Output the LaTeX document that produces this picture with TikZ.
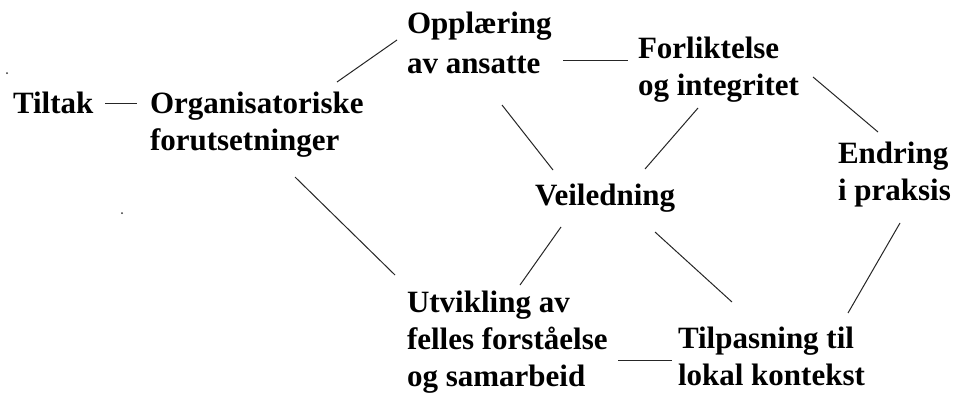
\documentclass[tikz,border=0pt]{standalone}
\usepackage{fontspec}
\setmainfont{Liberation Serif}
\newcommand\mylines[1]{\begin{tabular}[t]{@{}l@{}}#1\end{tabular}}
\begin{document}
\begin{tikzpicture}[x=1pt,y=-1pt,
  lbl/.style={anchor=base west,inner sep=0pt,outer sep=0pt,
    font=\fontsize{31}{37}\selectfont\bfseries},
  conn/.style={draw=black!85,line width=1pt}]
\useasboundingbox[fill=white] (0,0) rectangle (953,394);
\node[lbl] (tiltak) at (13,113) {Tiltak};
\node[lbl] (org) at (150,113) {\mylines{Organisatoriske\\forutsetninger}};
\node[lbl] (opp) at (407,33) {\mylines{Oppl\ae ring\\[3pt]av ansatte}};
\node[lbl] (forl) at (638,58) {\mylines{Forliktelse\\og integritet}};
\node[lbl] (veil) at (535,205) {Veiledning};
\node[lbl] (endr) at (838,163) {\mylines{Endring\\i praksis}};
\node[lbl] (utv) at (407,312) {\mylines{Utvikling av\\felles forståelse\\og samarbeid}};
\node[lbl] (tilp) at (678,348) {\mylines{Tilpasning til\\lokal kontekst}};
\draw[conn] ([shift={(92,-10)}]tiltak.base west) -- ([shift={(-13,-10)}]org.base west);
\draw[conn] ([shift={(187,-31)}]org.base west) -- ([shift={(-10,7)}]opp.base west);
\draw[conn] ([shift={(145,64)}]org.base west) -- ([shift={(-12,-37)}]utv.base west);
\draw[conn] ([shift={(156,27)}]opp.base west) -- ([shift={(-10,2)}]forl.base west);
\draw[conn] ([shift={(95,72)}]opp.base west) -- ([shift={(18,-35)}]veil.base west);
\draw[conn] ([shift={(60,50)}]forl.base west) -- ([shift={(110,-36)}]veil.base west);
\draw[conn] ([shift={(175,19)}]forl.base west) -- ([shift={(40,-31)}]endr.base west);
\draw[conn] ([shift={(62,60)}]endr.base west) -- ([shift={(170,-35)}]tilp.base west);
\draw[conn] ([shift={(26,22)}]veil.base west) -- ([shift={(113,-27)}]utv.base west);
\draw[conn] ([shift={(120,27)}]veil.base west) -- ([shift={(54,-46)}]tilp.base west);
\draw[conn] ([shift={(211,48)}]utv.base west) -- ([shift={(-6,12)}]tilp.base west);
\fill[black!80] (7,73) circle (1);
\fill[black!80] (122,213) circle (1);
\end{tikzpicture}
\end{document}
